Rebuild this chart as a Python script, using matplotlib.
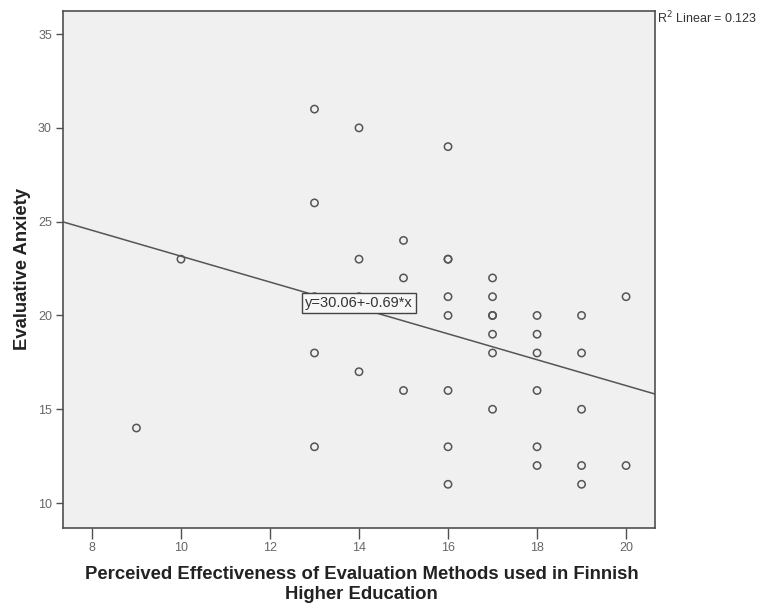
import matplotlib
matplotlib.use("Agg")
import matplotlib.pyplot as plt
import numpy as np

plt.rcParams['font.family'] = ['Liberation Sans', 'DejaVu Sans']

# Data
effectiveness = [9, 10,
                 13, 13, 13, 13, 13,
                 14, 14, 14, 14,
                 15, 15, 15,
                 16, 16, 16, 16, 16, 16, 16, 16,
                 17, 17, 17, 17, 17, 17, 17,
                 18, 18, 18, 18, 18, 18,
                 19, 19, 19, 19, 19,
                 20, 20]
anxiety = [14, 23,
           31, 26, 21, 18, 13,
           30, 23, 21, 17,
           24, 22, 16,
           29, 23, 23, 21, 20, 16, 13, 11,
           22, 21, 20, 20, 19, 18, 15,
           20, 19, 18, 16, 13, 12,
           20, 18, 15, 12, 11,
           21, 12]
intercept = 30.06
slope = -0.69
r2 = 0.123
x_ticks = [8, 10, 12, 14, 16, 18, 20]
y_ticks = [10, 15, 20, 25, 30, 35]

W, H = 762, 605
L, R, T, B = 63, 655, 11, 528
fig = plt.figure(figsize=(W / 100, H / 100), dpi=100)
ax = fig.add_axes([L / W, 1 - B / H, (R - L) / W, (B - T) / H])
ax.set_facecolor("#f0f0f0")
xlim = (7.35, 20.65)
ylim = (8.67, 36.23)
ax.set_xlim(*xlim)
ax.set_ylim(*ylim)

ax.scatter(effectiveness, anxiety, s=28, facecolors="none",
           edgecolors="#555555", linewidths=1.1, zorder=3)

xs = np.array(xlim)
ax.plot(xs, intercept + slope * xs, color="#555555", lw=1.1, zorder=2)

ax.text(14, 20.65, f"y={intercept:.2f}+{slope:.2f}*x", ha="center", va="center",
        fontsize=10.5, color="#333333", zorder=4,
        bbox=dict(boxstyle="square,pad=0.2", fc="#f7f7f7", ec="#444444", lw=1))

for s in ax.spines.values():
    s.set_color("#505050")
    s.set_linewidth(1.2)

ax.set_xticks(x_ticks)
ax.set_yticks(y_ticks)
ax.tick_params(axis="both", direction="out", width=1, color="#505050",
               labelsize=9, labelcolor="#666666")
ax.tick_params(axis="x", length=8, pad=2)
ax.tick_params(axis="y", length=5, pad=3)

ax.set_xlabel("Perceived Effectiveness of Evaluation Methods used in Finnish\nHigher Education",
              fontsize=13.3, fontweight="bold", color="#222222", linespacing=1.25)
ax.xaxis.set_label_coords((361.5 - L) / (R - L), -(566 - B) / (B - T))
ax.set_ylabel("Evaluative Anxiety", fontsize=13.3, fontweight="bold", color="#222222")
ax.yaxis.set_label_coords(-(L - 31) / (R - L), 0.5)

fig.text(657 / W, 1 - 18 / H, f"R$^2$ Linear = {r2}", fontsize=9,
         color="#333333", ha="left", va="center")

fig.savefig("out.png", dpi=100, facecolor="white")
